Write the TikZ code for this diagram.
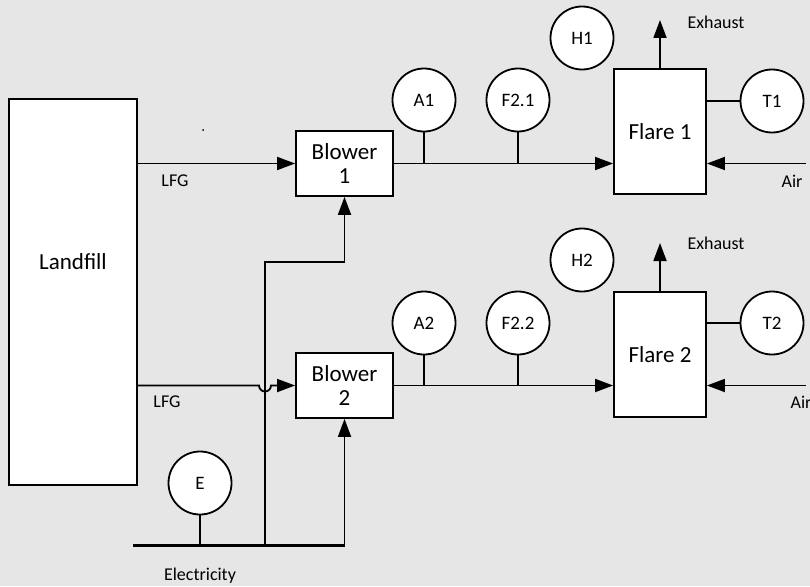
\documentclass[tikz,border=0pt]{standalone}
\usepackage{fontspec}
\setmainfont{Carlito}
\usetikzlibrary{arrows.meta}
\definecolor{bggray}{HTML}{E6E6E6}

\begin{document}
\begin{tikzpicture}[x=1pt, y=-1pt,
    unit/.style={draw, line width=1.8pt, fill=white, rectangle, align=center,
        font=\fontsize{23}{24}\selectfont, minimum width=#1},
    sensor/.style={draw, line width=1.8pt, fill=white, circle, minimum size=63pt,
        inner sep=0pt, font=\fontsize{19}{21}\selectfont},
    tag/.style={font=\fontsize{18}{20}\selectfont},
    flow/.style={line width=1.8pt, -{Triangle[length=18pt,width=13pt]}},
    wire/.style={line width=1.8pt},
    bus/.style={line width=3pt}
]
    % Background and page frame
    \fill[bggray] (0,0) rectangle (810,586);
    \clip (0,0) rectangle (810,586);

    % Landfill
    \node[unit=128pt, minimum height=386pt] (landfill) at (73,292) {};
    \node[font=\fontsize{23}{24}\selectfont] (landfilltext) at (73,262) {Landfill};
    \fill (203,130) circle (1pt);

    % Blowers and flares
    \node[unit=97pt, minimum height=65pt] (blower1) at (344.5,163.5) {Blower\\1};
    \node[unit=97pt, minimum height=65pt] (blower2) at (344.5,385.5) {Blower\\2};
    \node[unit=92pt, minimum height=125pt] (flare1) at (660,131.5) {Flare 1};
    \node[unit=92pt, minimum height=125pt] (flare2) at (660,354.5) {Flare 2};

    % Measurement points
    \node[sensor] (a1) at (424,100) {A1};
    \node[sensor] (f21) at (518,100) {F2.1};
    \node[sensor] (h1) at (582,38) {H1};
    \node[sensor] (t1) at (772,101) {T1};
    \node[sensor] (a2) at (424,323) {A2};
    \node[sensor] (f22) at (518,323) {F2.2};
    \node[sensor] (h2) at (582,260) {H2};
    \node[sensor] (t2) at (772,323) {T2};
    \node[sensor] (e) at (200,483) {E};

    % Free ends
    \coordinate (exh1) at (660,20);
    \coordinate (exh2) at (660,243);
    \coordinate (air1) at (806,163.5);
    \coordinate (air2) at (806,385.5);
    \coordinate (elecL) at (133,545);
    \coordinate (elecR) at (344.5,545);
    \coordinate (split) at (265,545);
    \coordinate (bend) at (265,262);
    \coordinate (hop) at (265,385.5);

    % Line 1
    \draw[flow] (landfill.east |- blower1) -- (blower1.west);
    \draw[flow] (blower1.east) -- (blower1.east -| flare1.west);
    \draw[wire] (a1.south) -- (a1.south |- blower1.east);
    \draw[wire] (f21.south) -- (f21.south |- blower1.east);
    \draw[flow] (flare1.north) -- (exh1);
    \draw[wire] (flare1.east |- t1) -- (t1.west);
    \draw[flow] (air1) -- (air1 -| flare1.east);

    % Line 2
    \draw[flow] (landfill.east |- blower2) -- ([xshift=-6pt]hop)
        arc[start angle=180, end angle=360, radius=6pt] -- (blower2.west);
    \draw[flow] (blower2.east) -- (blower2.east -| flare2.west);
    \draw[wire] (a2.south) -- (a2.south |- blower2.east);
    \draw[wire] (f22.south) -- (f22.south |- blower2.east);
    \draw[flow] (flare2.north) -- (exh2);
    \draw[wire] (flare2.east |- t2) -- (t2.west);
    \draw[flow] (air2) -- (air2 -| flare2.east);

    % Electricity supply
    \draw[bus] (elecL) -- (elecR);
    \draw[wire] (e.south) -- (e.south |- elecL);
    \draw[flow] (elecR) -- (blower2.south);
    \draw[flow] (split) -- (bend) -| (blower1.south);

    % Labels
    \node[tag] (lfg1) at (175,181) {LFG};
    \node[tag] (lfg2) at (167,402) {LFG};
    \node[tag] (exhaust1) at (716,22) {Exhaust};
    \node[tag] (exhaust2) at (716,243) {Exhaust};
    \node[tag] (airtag1) at (792,181) {Air};
    \node[tag] (airtag2) at (801,402) {Air};
    \node[tag] (electricity) at (200,576) {Electricity};
\end{tikzpicture}
\end{document}
